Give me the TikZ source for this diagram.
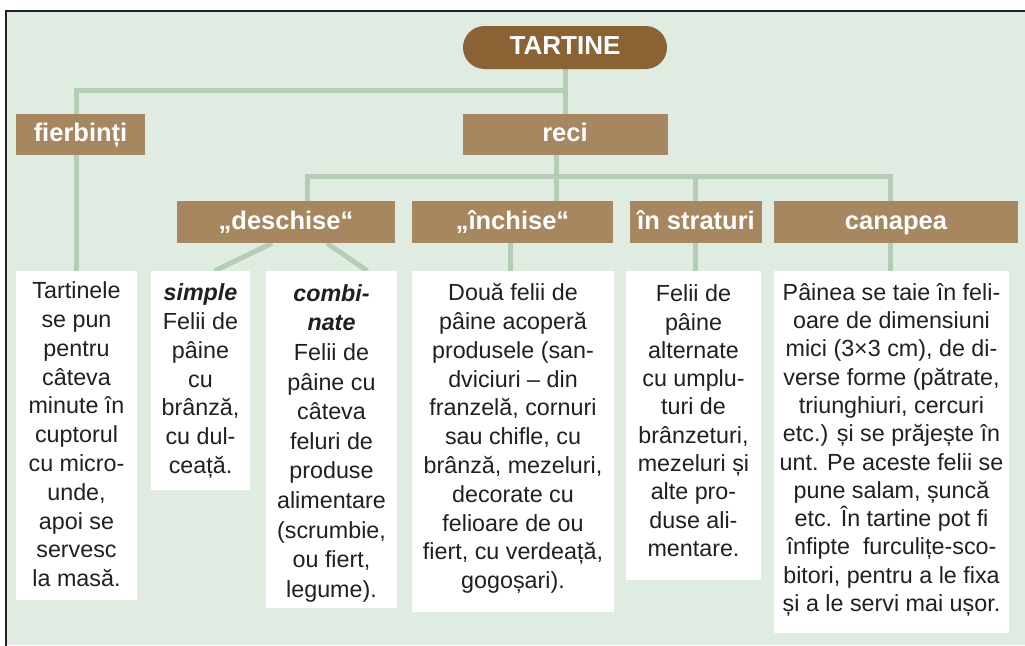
\documentclass[tikz,border=0pt]{standalone}
\usepackage{fontspec}
\setmainfont{Liberation Sans}
\definecolor{bgc}{HTML}{E0EBE1}
\definecolor{linec}{HTML}{B4CDB5}
\definecolor{hdr}{HTML}{A6875F}
\definecolor{rootc}{HTML}{8A6233}
\definecolor{txt}{HTML}{231F20}
\definecolor{framec}{HTML}{222222}
\pgfdeclarelayer{bg}
\pgfdeclarelayer{lines}
\pgfsetlayers{bg,lines,main}
\newcommand{\leafpar}[5]{\parbox[c][#2][t]{#1}{\centering\fontsize{23.3}{#3}\selectfont\rule{0pt}{#4}#5}}
\begin{document}
\begin{tikzpicture}[x=1pt,y=-1pt,
  hdrbox/.style={fill=hdr, text=white, font=\fontsize{25.5}{28}\selectfont\bfseries, inner sep=0pt, minimum height=41pt, text height=18pt, text depth=4pt},
  rootbox/.style={fill=rootc, text=white, font=\fontsize{26}{28}\selectfont\bfseries, inner sep=0pt, minimum height=43pt, minimum width=204pt, rounded corners=21.5pt, text height=18pt, text depth=4pt},
  leaf/.style={fill=white, text=txt, inner sep=0pt, anchor=north},
  conn/.style={draw=linec, line width=5pt, line join=miter}]
\useasboundingbox (0,0) rectangle (1025,645);
\begin{pgfonlayer}{bg}
  \fill[white] (0,0) rectangle (1025,645);
  \fill[bgc] (5.8,10.8) rectangle (1025,645);
  \draw[framec, line width=1.7pt] (5.8,650) -- (5.8,10.8) -- (1030,10.8);
\end{pgfonlayer}

% header nodes
\node[rootbox] (root) at (565,47.5) {TARTINE};
\node[hdrbox, minimum width=129pt] (fierb) at (80.5,134.5) {fierbinți};
\node[hdrbox, minimum width=205pt] (reci) at (565,134.5) {reci};
\node[hdrbox, minimum width=218pt, minimum height=42pt] (desch) at (286,222) {„deschise“};
\node[hdrbox, minimum width=201pt, minimum height=42pt] (inchh) at (512.5,222) {„închise“};
\node[hdrbox, minimum width=132pt, minimum height=42pt] (strath) at (696,222) {în straturi};
\node[hdrbox, minimum width=244pt, minimum height=42pt] (canh) at (896,222) {canapea};

% leaf boxes
\node[leaf] (tart) at (76.5,271) {\leafpar{121pt}{329pt}{28.8pt}{27.5pt}{Tartinele\\ se pun\\ pentru\\ câteva\\ minute în\\ cuptorul\\ cu micro-\\ unde,\\ apoi se\\ servesc\\ la masă.}};
\node[leaf] (simple) at (200.5,271) {\leafpar{99pt}{219pt}{28.8pt}{29.5pt}{\textbf{\textit{simple}}\\ Felii de\\ pâine\\ cu\\ brânză,\\ cu dul-\\ ceață.}};
\node[leaf] (comb) at (331.5,271) {\leafpar{131pt}{337pt}{29.6pt}{30pt}{\textbf{\textit{combi-}}\\ \textbf{\textit{nate}}\\ Felii de\\ pâine cu\\ câteva\\ feluri de\\ produse\\ alimentare\\ (scrumbie,\\ ou fiert,\\ legume).}};
\node[leaf] (inch) at (513,271) {\leafpar{202pt}{341pt}{28.8pt}{29.5pt}{Două felii de\\ pâine acoperă\\ produsele (san-\\ dviciuri – din\\ franzelă, cornuri\\ sau chifle, cu\\ brânză, mezeluri,\\ decorate cu\\ felioare de ou\\ fiert, cu verdeață,\\ gogoșari).}};
\node[leaf] (strat) at (693.5,271) {\leafpar{135pt}{309pt}{28.3pt}{30.5pt}{Felii de\\ pâine\\ alternate\\ cu umplu-\\ turi de\\ brânzeturi,\\ mezeluri și\\ alte pro-\\ duse ali-\\ mentare.}};
\node[leaf] (canap) at (891.5,271) {\leafpar{235pt}{362pt}{28.3pt}{29pt}{Pâinea se taie în feli-\\ oare de dimensiuni\\ mici (3×3 cm), de di-\\ verse forme (pătrate,\\ triunghiuri, cercuri\\ etc.) și se prăjește în\\ unt. Pe aceste felii se\\ pune salam, șuncă\\ etc. În tartine pot fi\\ înfipte~ furculițe-sco-\\ bitori, pentru a le fixa\\ și a le servi mai ușor.}};

% junctions
\coordinate (j0) at (565,90.5);
\coordinate (jf) at (76,90.5);
\coordinate (j2) at (556,176);
\coordinate (jl) at (307,176);
\coordinate (j3) at (695,176);
\coordinate (jr) at (890,176);
\coordinate (jb) at (510,250);

\begin{pgfonlayer}{lines}
  \draw[conn] (root.south) -- (reci.north);
  \draw[conn] (fierb.north -| jf) |- (j0);
  \draw[conn] (reci.south -| j2) -- (j2);
  \draw[conn] (desch.north -| jl) |- (jr) -- (canh.north -| jr);
  \draw[conn] (j2) -- (inchh.north -| j2);
  \draw[conn] (j3) -- (strath.north -| j3);
  \draw[conn] (fierb.south -| jf) -- (tart.north -| jf);
  \draw[conn] ([xshift=-14pt]desch.south) -- ([xshift=14pt]simple.north);
  \draw[conn] ([xshift=41pt]desch.south) -- ([xshift=36pt]comb.north);
  \draw[conn] (inchh.south -| jb) -- (inch.north -| jb);
  \draw[conn] (strath.south -| j3) -- (strat.north -| j3);
  \draw[conn] (canh.south -| jr) -- (canap.north -| jr);
\end{pgfonlayer}
\end{tikzpicture}
\end{document}
